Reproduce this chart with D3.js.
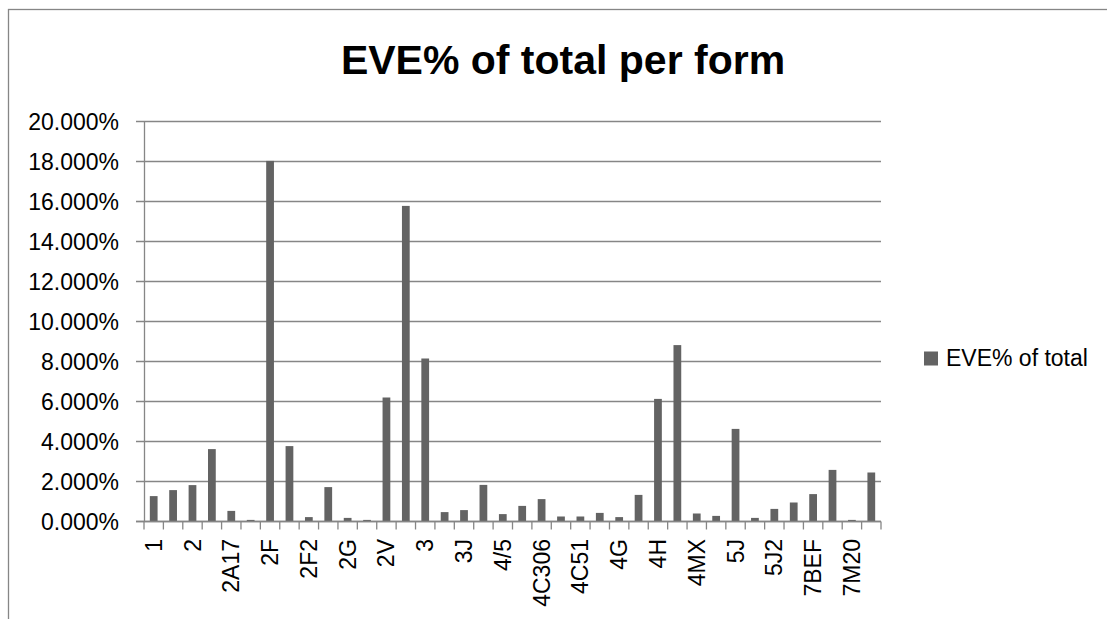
<!DOCTYPE html>
<html>
<head>
<meta charset="utf-8">
<script src="https://cdn.jsdelivr.net/npm/d3@7"></script>
<style>
  body { margin: 0; background: #fff; }
  text { font-family: "Liberation Sans", Arial, sans-serif; fill: #000; }
</style>
</head>
<body>
<svg id="chart" width="1107" height="619"></svg>
<script>
// categories (odd ones are not labelled on the axis in the original)
var forms = ["1", "1A", "2", "2A", "2A17", "2B", "2F", "2F1", "2F2", "2F3",
    "2G", "2H", "2V", "2X", "3", "3F", "3J", "4", "4/5", "4C",
    "4C306", "4C5", "4C51", "4F", "4G", "4G2", "4H", "4J", "4MX", "5",
    "5J", "5J1", "5J2", "6", "7BEF", "7F", "7M20", "8"];

// EVE% of total, in percent
var evePct = [1.27, 1.57, 1.82, 3.62, 0.53, 0.08, 18.03, 3.77, 0.22, 1.72,
    0.18, 0.08, 6.2, 15.78, 8.15, 0.47, 0.57, 1.83, 0.37, 0.78,
    1.12, 0.25, 0.25, 0.43, 0.22, 1.33, 6.13, 8.82, 0.4, 0.28,
    4.63, 0.18, 0.63, 0.95, 1.37, 2.58, 0.08, 2.45];

var yTicks = [0, 2, 4, 6, 8, 10, 12, 14, 16, 18, 20];

var seriesName = "EVE% of total";
var title = "EVE% of total per form";

var svg = d3.select("#chart");
var gridColor = "#868686";
var barColor = "#636363";

// plot area (note: "top" is taken by window.top)
var plotL = 144, plotR = 881, plotT = 121.5, plotB = 521.5;

// outer chart frame (runs off the right and bottom edge)
svg.append("rect")
    .attr("x", 8.5).attr("y", 9.5)
    .attr("width", 1200).attr("height", 700)
    .attr("fill", "none")
    .attr("stroke", gridColor)
    .attr("stroke-width", 1.3);

svg.append("text")
    .attr("x", 563).attr("y", 74)
    .attr("text-anchor", "middle")
    .style("font-size", "41px")
    .style("font-weight", "bold")
    .text(title);

var x = d3.scaleBand()
    .domain(forms)
    .range([plotL, plotR])
    .paddingInner(0.6)
    .paddingOuter(0.3);

var y = d3.scaleLinear()
    .domain([0, 20])
    .range([plotB, plotT]);

// gridlines
svg.append("g")
    .selectAll("line")
    .data(yTicks)
    .enter()
    .append("line")
    .attr("x1", plotL - 8).attr("x2", plotR)
    .attr("y1", d => y(d)).attr("y2", d => y(d))
    .attr("stroke", gridColor)
    .attr("stroke-width", 1.3);

// y axis
var yAxis = d3.axisLeft(y)
    .tickValues(yTicks)
    .tickSize(0)
    .tickPadding(25)
    .tickFormat(d => d.toFixed(3) + "%");

var gy = svg.append("g")
    .attr("transform", "translate(" + plotL + ",0)")
    .call(yAxis);
gy.select(".domain").attr("stroke", gridColor).attr("stroke-width", 1.3);
gy.selectAll("text").style("font-size", "23px").attr("dy", "0.35em");

// bars
svg.append("g")
    .selectAll("rect")
    .data(evePct)
    .enter()
    .append("rect")
    .attr("x", (d, i) => x(forms[i]))
    .attr("y", d => y(d))
    .attr("width", x.bandwidth())
    .attr("height", d => y(0) - y(d))
    .attr("fill", barColor);

// x axis: ticks at category boundaries, labels on every other category
var step = x.step();
var x0 = x(forms[0]) - (step - x.bandwidth()) / 2;
var bounds = d3.range(forms.length + 1).map(i => x0 + i * step);

svg.append("line")
    .attr("x1", plotL - 8).attr("x2", plotR)
    .attr("y1", plotB).attr("y2", plotB)
    .attr("stroke", gridColor)
    .attr("stroke-width", 1.3);

svg.append("g")
    .selectAll("line")
    .data(bounds)
    .enter()
    .append("line")
    .attr("x1", d => d).attr("x2", d => d)
    .attr("y1", plotB).attr("y2", plotB + 8)
    .attr("stroke", gridColor)
    .attr("stroke-width", 1.3);

var shown = forms.filter((d, i) => i % 2 == 0);

svg.append("g")
    .selectAll("text")
    .data(shown)
    .enter()
    .append("text")
    .attr("transform", d => "translate(" + (x(d) + x.bandwidth() / 2) + "," + 539 + ") rotate(-90)")
    .attr("text-anchor", "end")
    .attr("dy", "0.35em")
    .style("font-size", "23px")
    .text(d => d);

// legend
var legend = svg.append("g").attr("transform", "translate(924, 351.5)");
legend.append("rect")
    .attr("width", 14).attr("height", 14)
    .attr("fill", barColor);
legend.append("text")
    .attr("x", 22).attr("y", 14)
    .style("font-size", "23px")
    .text(seriesName);
</script>
</body>
</html>
